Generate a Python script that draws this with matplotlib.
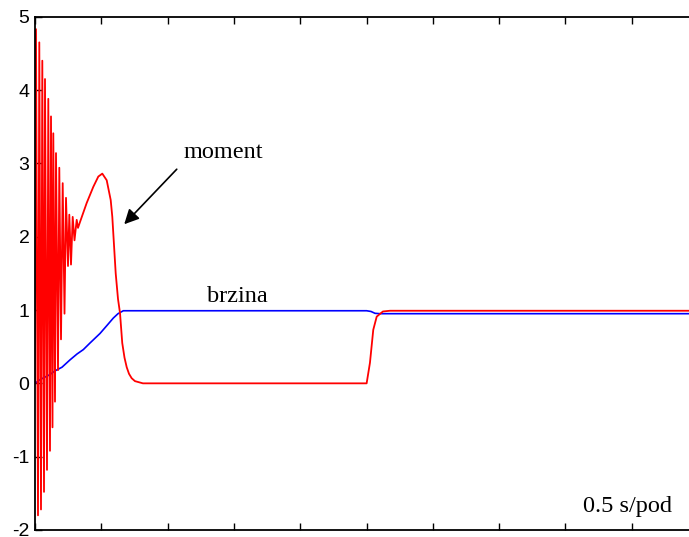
import matplotlib
matplotlib.use("Agg")
import matplotlib.pyplot as plt

plt.rcParams['axes.unicode_minus'] = False
plt.rcParams['font.family'] = 'Liberation Sans'

# moment (red): decaying oscillation, hump, drop to 0, step back to 1
moment_t = [0.000, 0.0075, 0.0226, 0.0324, 0.0452, 0.0551, 0.0679, 0.0754,
            0.0905, 0.1003, 0.1131, 0.1207, 0.132, 0.138, 0.1508, 0.1584,
            0.1735, 0.1833, 0.1961, 0.2089, 0.2225, 0.2338, 0.2489, 0.2587,
            0.2715, 0.2843, 0.2979, 0.3145, 0.3243, 0.3394, 0.3899, 0.4397,
            0.4774, 0.5075, 0.5407, 0.5709, 0.583, 0.592, 0.6086, 0.626,
            0.641, 0.658, 0.675, 0.6916, 0.709, 0.729, 0.754, 0.814,
            2.501, 2.526, 2.551, 2.577, 2.624, 2.677, 5.0]
moment_v = [0.0, 4.83, -1.80, 4.65, -1.72, 4.40, -1.48, 4.15,
            -1.18, 3.88, -0.92, 3.64, -0.60, 3.41, -0.25, 3.14,
            0.18, 2.94, 0.60, 2.73, 0.95, 2.53, 1.60, 2.30,
            1.62, 2.27, 1.95, 2.23, 2.12, 2.20, 2.46, 2.68,
            2.82, 2.86, 2.77, 2.50, 2.27, 2.00, 1.50, 1.15,
            0.96, 0.55, 0.35, 0.22, 0.13, 0.07, 0.03, 0.0,
            0.0, 0.28, 0.73, 0.91, 0.98, 0.99, 0.99]

# brzina (blue): speed ramp up, small dip at load step
speed_t = [0.0, 0.0377, 0.1131, 0.1508, 0.2036, 0.264, 0.3167, 0.3643,
           0.4148, 0.4902, 0.543, 0.5905, 0.626, 0.666, 2.501, 2.534,
           2.564, 2.602, 5.0]
speed_v = [0.0, 0.05, 0.12, 0.17, 0.22, 0.32, 0.40, 0.46,
           0.55, 0.68, 0.79, 0.89, 0.95, 0.99, 0.99, 0.98,
           0.955, 0.95, 0.95]

xticks = [0.5 * i for i in range(11)]
yticks = [-2, -1, 0, 1, 2, 3, 4, 5]

fig = plt.figure(figsize=(6.89, 5.37), dpi=100)
ax = fig.add_axes([35 / 689, 7 / 537, 663 / 689, 513.3 / 537])

ax.plot(speed_t, speed_v, color='blue', lw=1.2)
ax.plot(moment_t, moment_v, color='red', lw=1.3)

ax.set_xlim(0, 5)
ax.set_ylim(-2, 5)
ax.set_xticks(xticks)
ax.set_xticklabels([])
ax.set_yticks(yticks)
ax.tick_params(direction='in', length=5, width=1, top=True, right=True,
               labelsize=14, pad=4)
for s in ax.spines.values():
    s.set_linewidth(1.3)

serif = 'Liberation Serif'
ax.text(1.418, 3.07, 'moment', family=serif, fontsize=17.5, ha='center', va='baseline')
ax.text(1.523, 1.113, 'brzina', family=serif, fontsize=17.5, ha='center', va='baseline')
ax.text(4.133, -1.75, '0.5 s/pod', family=serif, fontsize=17.5, ha='left', va='baseline')
ax.annotate('', xy=(0.673, 2.17), xytext=(1.069, 2.92),
            arrowprops=dict(arrowstyle='-|>', color='black', lw=1.2,
                            mutation_scale=22, shrinkA=0, shrinkB=0))

fig.savefig('out.png', dpi=100)
